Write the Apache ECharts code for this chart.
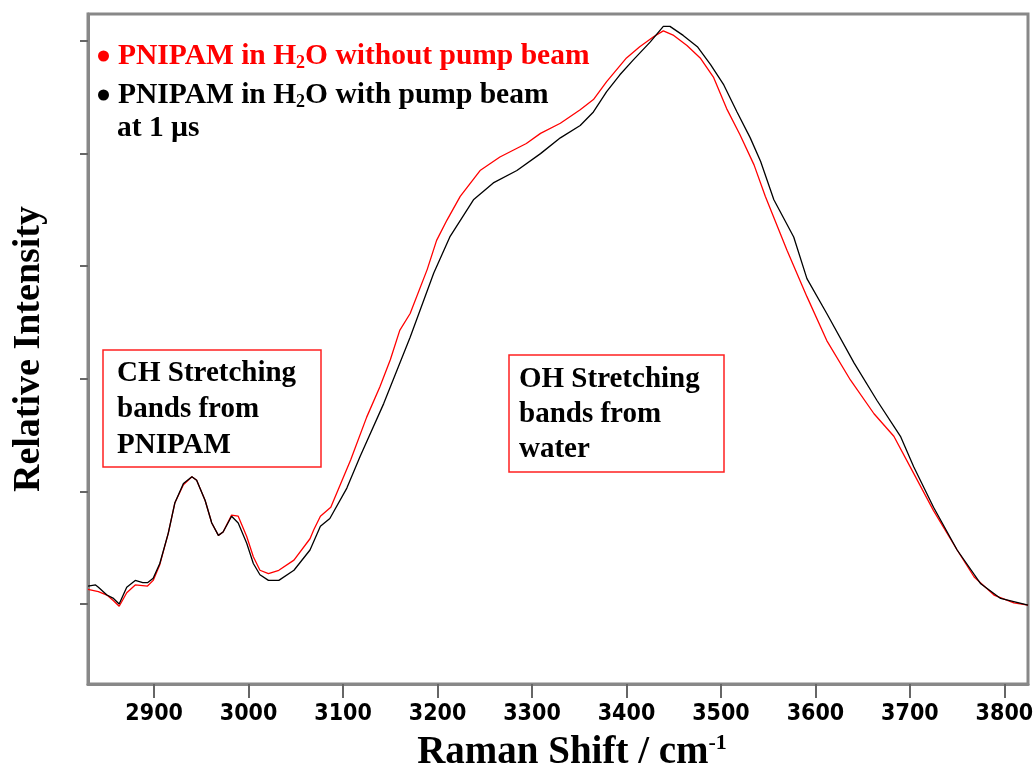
<!DOCTYPE html>
<html>
<head>
<meta charset="utf-8">
<script src="https://cdn.jsdelivr.net/npm/echarts@6/dist/echarts.min.js"></script>
<style>
html,body{margin:0;padding:0;background:#fff;}
#chart{width:1035px;height:773px;}
</style>
</head>
<body>
<div id="chart"></div>
<script>
// Raman shift (cm-1) and relative intensity
const shiftRed = [2830,2841,2850,2857,2863,2871,2880,2893,2899,2906,2915,2922,2931,2940,2945,2954,2961,2968,2973,2982,2989,2998,3005,3012,3021,3032,3048,3065,3069,3076,3087,3100,3108,3125,3139,3150,3160,3171,3189,3199,3210,3224,3245,3266,3294,3309,3330,3351,3365,3379,3400,3414,3429,3439,3450,3464,3478,3492,3506,3520,3535,3547,3570,3591,3612,3637,3662,3683,3704,3725,3750,3768,3789,3810,3825];
const intensityRed = [0.13,0.11,0.08,0.03,-0.02,0.10,0.17,0.16,0.21,0.35,0.63,0.90,1.06,1.13,1.10,0.92,0.72,0.61,0.64,0.79,0.78,0.60,0.42,0.30,0.27,0.30,0.39,0.58,0.66,0.78,0.86,1.12,1.28,1.66,1.93,2.17,2.43,2.58,2.97,3.23,3.41,3.62,3.85,3.97,4.09,4.18,4.27,4.39,4.48,4.64,4.85,4.95,5.04,5.09,5.05,4.96,4.85,4.68,4.40,4.17,3.90,3.62,3.14,2.73,2.34,1.99,1.69,1.49,1.16,0.83,0.48,0.24,0.08,0.01,-0.01];

const shiftBlack = [2830,2838,2841,2850,2857,2863,2871,2880,2888,2893,2899,2906,2915,2922,2931,2940,2945,2954,2961,2968,2973,2982,2989,2998,3005,3012,3021,3032,3048,3065,3076,3086,3104,3118,3143,3171,3196,3213,3238,3259,3284,3309,3330,3351,3365,3379,3393,3407,3425,3439,3446,3460,3475,3489,3503,3517,3531,3542,3556,3577,3591,3612,3641,3665,3690,3704,3725,3750,3775,3796,3825];
const intensityBlack = [0.16,0.17,0.15,0.08,0.05,0.00,0.15,0.21,0.19,0.19,0.23,0.36,0.63,0.90,1.07,1.13,1.10,0.92,0.72,0.61,0.64,0.78,0.72,0.54,0.36,0.26,0.21,0.21,0.30,0.48,0.69,0.76,1.03,1.31,1.78,2.37,2.94,3.26,3.59,3.74,3.85,4.00,4.14,4.25,4.37,4.55,4.70,4.83,4.99,5.13,5.13,5.05,4.95,4.79,4.61,4.37,4.14,3.93,3.59,3.26,2.89,2.58,2.14,1.81,1.49,1.22,0.86,0.48,0.18,0.05,-0.01];

const xTicks = [2900,3000,3100,3200,3300,3400,3500,3600,3700,3800];
const yTicks = [0,1,2,3,4,5];

const seriesNames = ['PNIPAM in H2O without pump beam','PNIPAM in H2O with pump beam'];

const pairs = (xs, ys) => xs.map((x, i) => [x, ys[i]]);

const serif = '"Liberation Serif","Times New Roman",serif';
const chart = echarts.init(document.getElementById('chart'), null, {renderer: 'canvas'});

chart.setOption({
  animation: false,
  backgroundColor: '#fff',
  grid: {left: 88, right: 7, top: 14, bottom: 89, show: true, borderColor: '#888', borderWidth: 3, backgroundColor: 'transparent', containLabel: false, outerBoundsMode: 'none'},
  legend: {
    orient: 'vertical',
    left: 93, top: 36,
    itemWidth: 11, itemHeight: 11, itemGap: 8,
    icon: 'circle',
    data: [
      {name: seriesNames[0], itemStyle: {color: '#ff0000'}, textStyle: {color: '#ff0000'}},
      {name: seriesNames[1], itemStyle: {color: '#000'}, textStyle: {color: '#000'}}
    ],
    formatter: function (name) {
      return name === seriesNames[0]
        ? '{t|PNIPAM in H}{s|2}{t|O without pump beam}'
        : '{t|PNIPAM in H}{s|2}{t|O with pump beam}';
    },
    textStyle: {
      padding: [0, 0, 0, 4],
      rich: {
        t: {fontFamily: serif, fontWeight: 'bold', fontSize: 29.5, lineHeight: 32},
        s: {fontFamily: serif, fontWeight: 'bold', fontSize: 18, verticalAlign: 'bottom', lineHeight: 26}
      }
    }
  },
  xAxis: {
    type: 'value', min: 2830, max: 3825, position: 'bottom',
    name: '{t|Raman Shift / cm}{p|-1}',
    nameLocation: 'middle', nameGap: 48,
    nameTextStyle: {
      padding: [0, 0, 0, 28],
      rich: {
        t: {fontFamily: serif, fontWeight: 'bold', fontSize: 39, color: '#000', lineHeight: 42},
        p: {fontFamily: serif, fontWeight: 'bold', fontSize: 22, color: '#000', verticalAlign: 'top', lineHeight: 32}
      }
    },
    axisLine: {show: true, onZero: false, lineStyle: {color: '#888', width: 3}},
    axisTick: {show: true, inside: false, customValues: xTicks, length: 14, lineStyle: {color: '#666', width: 2}},
    axisLabel: {customValues: xTicks, margin: 19, color: '#000', fontWeight: 'bold', fontSize: 23,
      fontFamily: '"Liberation Sans Narrow","DejaVu Sans Condensed","Liberation Sans",Arial,sans-serif',
      formatter: function (v) { return String(v); }},
    splitLine: {show: false}
  },
  yAxis: {
    type: 'value', min: -0.71, max: 5.24, position: 'left',
    name: 'Relative Intensity',
    nameLocation: 'middle', nameGap: 40, nameRotate: 90,
    nameTextStyle: {fontFamily: serif, fontWeight: 'bold', fontSize: 38, color: '#000'},
    axisLine: {show: true, onZero: false, lineStyle: {color: '#888', width: 3}},
    axisTick: {show: true, inside: false, customValues: yTicks, length: 8, lineStyle: {color: '#666', width: 2}},
    axisLabel: {show: false},
    splitLine: {show: false}
  },
  graphic: [
    {type: 'text', left: 117, top: 113, style: {text: 'at 1 µs', font: 'bold 29.5px ' + serif, fill: '#000'}},
    {type: 'rect', shape: {x: 103, y: 350, width: 218, height: 117}, style: {fill: 'none', stroke: '#ff2020', lineWidth: 1.5}},
    {type: 'text', left: 117, top: 356, style: {text: 'CH Stretching\nbands from\nPNIPAM', font: 'bold 29px ' + serif, lineHeight: 36, fill: '#000'}},
    {type: 'rect', shape: {x: 509, y: 355, width: 215, height: 117}, style: {fill: 'none', stroke: '#ff2020', lineWidth: 1.5}},
    {type: 'text', left: 519, top: 362, style: {text: 'OH Stretching\nbands from\nwater', font: 'bold 29px ' + serif, lineHeight: 35, fill: '#000'}}
  ],
  series: [
    {name: seriesNames[0], type: 'line', data: pairs(shiftRed, intensityRed), showSymbol: false, symbol: 'none', lineStyle: {color: '#ff0000', width: 1.3}, itemStyle: {color: '#ff0000'}},
    {name: seriesNames[1], type: 'line', data: pairs(shiftBlack, intensityBlack), showSymbol: false, symbol: 'none', lineStyle: {color: '#000', width: 1.3}, itemStyle: {color: '#000'}}
  ]
});
</script>
</body>
</html>
